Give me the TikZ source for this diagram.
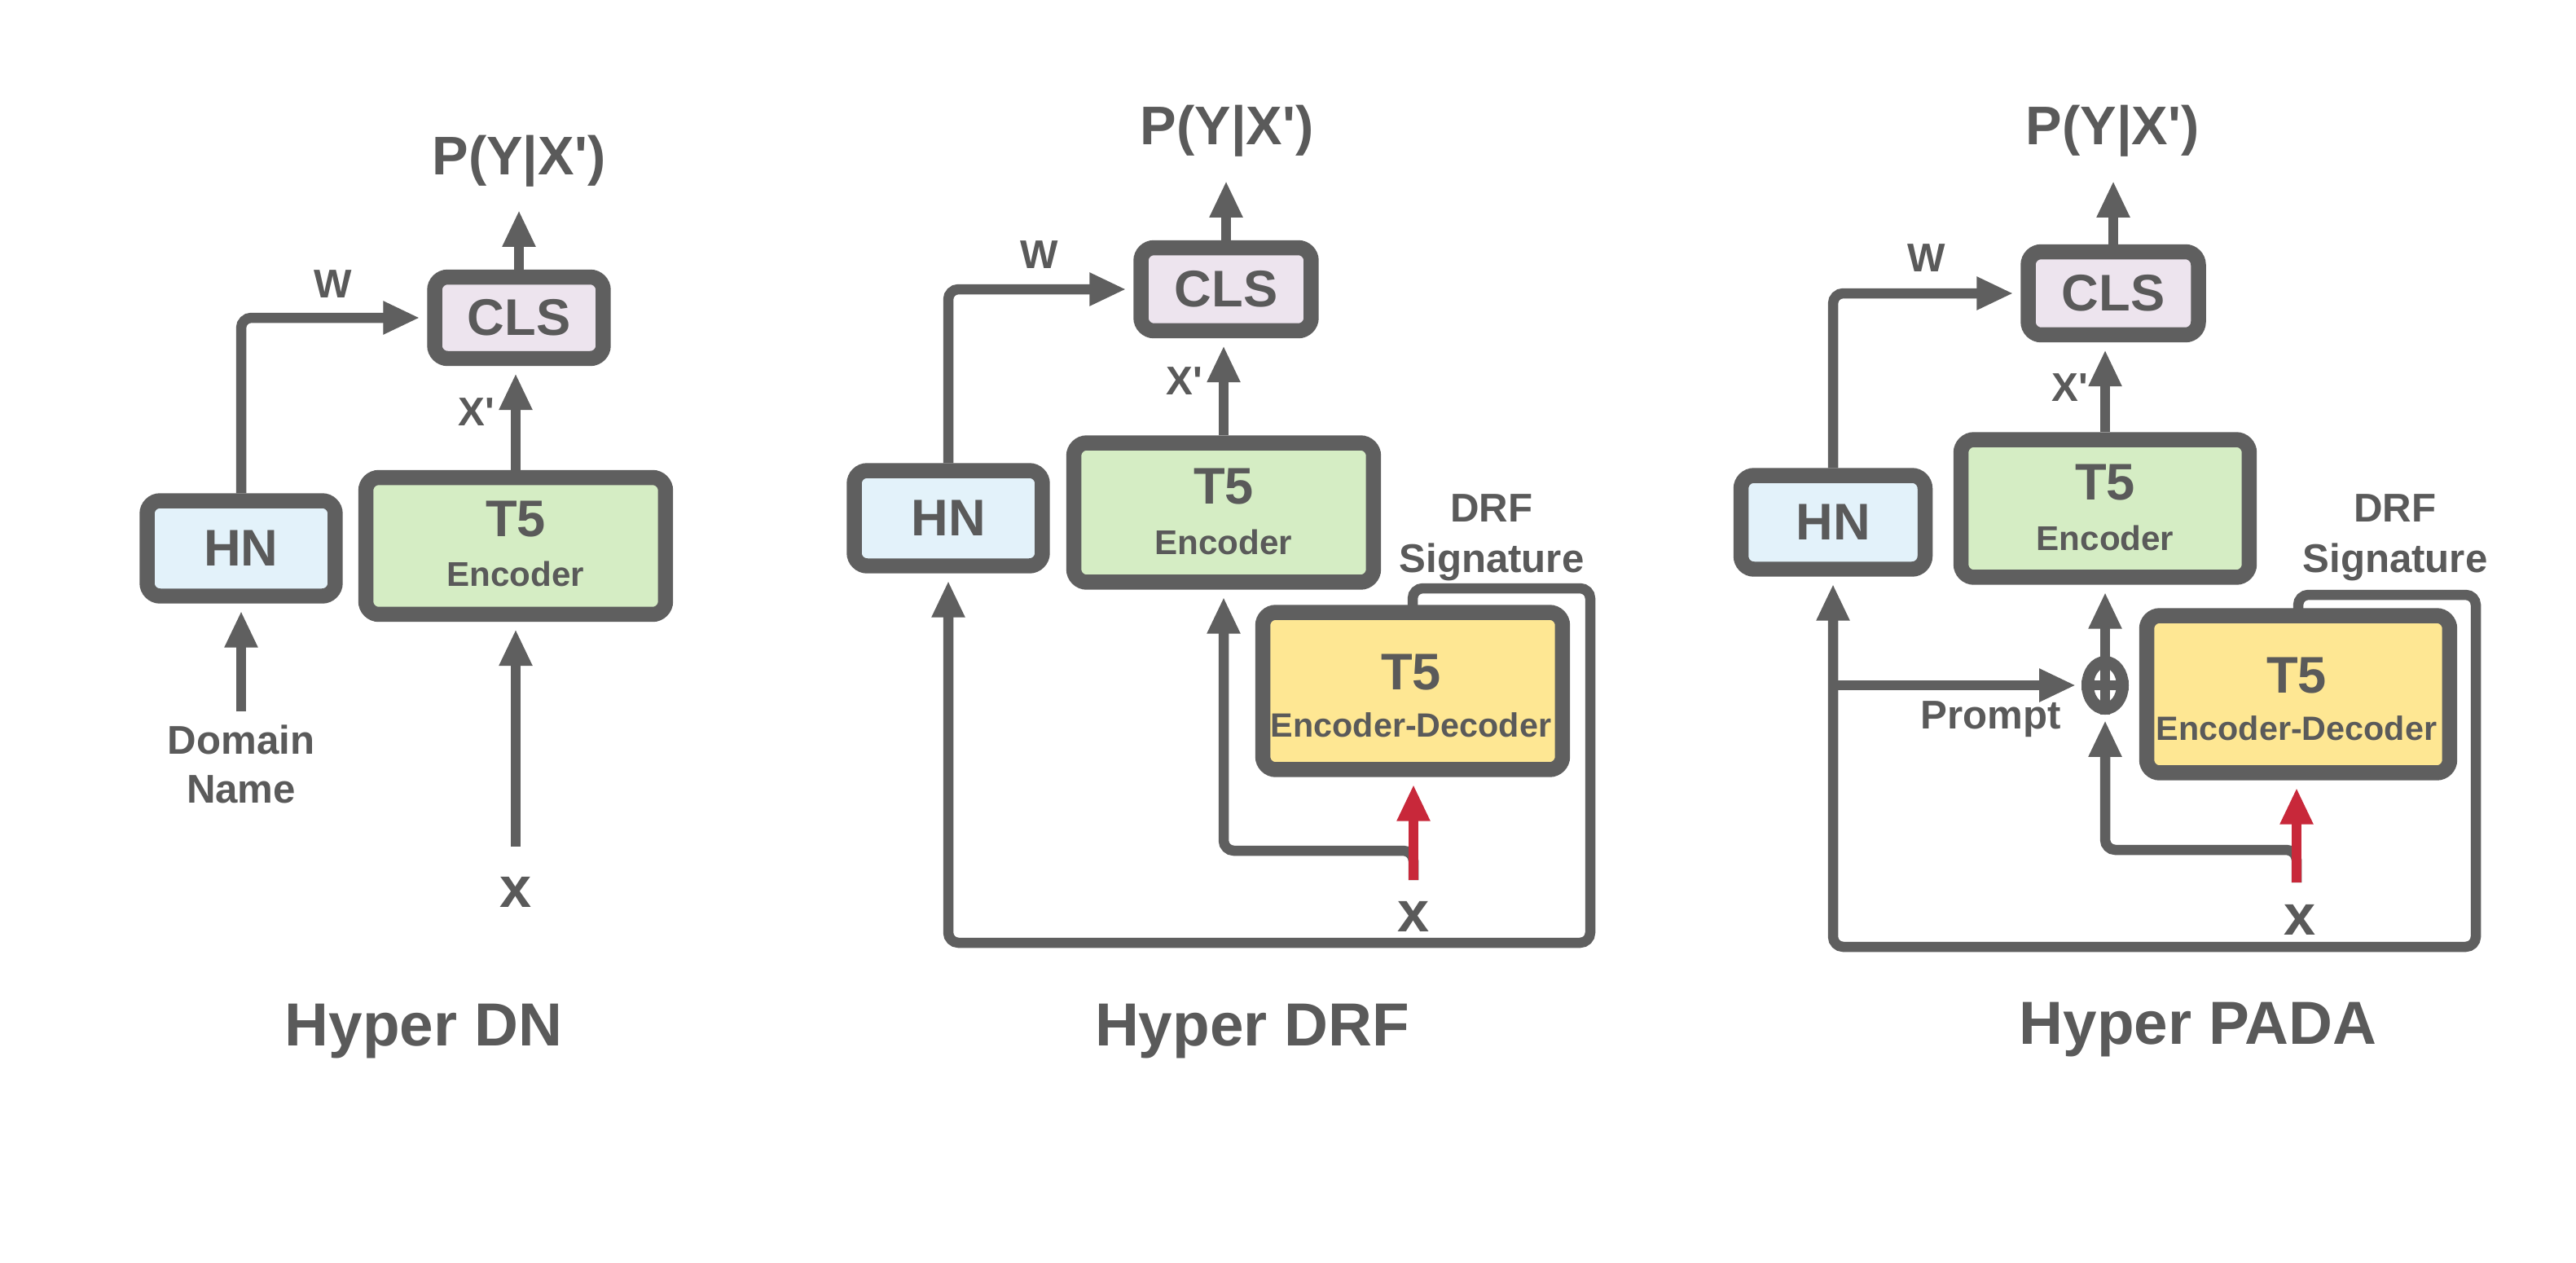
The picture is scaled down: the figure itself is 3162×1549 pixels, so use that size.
\documentclass[tikz,border=0pt]{standalone}
\usepackage{fontspec}
\setmainfont{Liberation Sans}
\usetikzlibrary{arrows.meta,shapes.geometric}
\definecolor{ln}{HTML}{5F5F5F}
\definecolor{txt}{HTML}{5A5A5A}
\definecolor{hnfill}{HTML}{E3F2FA}
\definecolor{encfill}{HTML}{D5EDC4}
\definecolor{clsfill}{HTML}{EDE4EE}
\definecolor{edfill}{HTML}{FEE793}
\definecolor{redc}{HTML}{C8283A}
\newcommand\fsz[2]{\fontsize{#1pt}{#2pt}\selectfont\bfseries}
\newcommand\pyx{P(Y|X\textquotesingle)}
\newcommand\xpr{X\textquotesingle}
\begin{document}
\begin{tikzpicture}[x=0.02cm,y=-0.02cm,
  box/.style={draw=ln, line width=0.37cm, rounded corners=0.32cm, inner sep=0pt},
  line/.style={draw=ln, line width=0.25cm},
  arr/.style={line, -{Triangle[length=0.9cm,width=0.76cm]}},
  redarr/.style={draw=redc, line width=0.25cm, -{Triangle[length=0.9cm,width=0.76cm]}},
  tobox/.style={shorten >=0.18cm},
  lbl/.style={text=txt, inner sep=0pt},
  big/.style={lbl, font=\fsz{38}{44}},
  xlbl/.style={lbl, font=\fsz{40}{44}},
  title/.style={lbl, font=\fsz{42.5}{48}},
  boxtxt/.style={lbl, font=\fsz{36}{40}},
  small/.style={lbl, font=\fsz{24}{28}},
  edtxt/.style={lbl, font=\fsz{23.5}{28}},
  mid/.style={lbl, font=\fsz{28}{32}},
  sig/.style={lbl, font=\fsz{28}{35}, align=center},
  rc/.style={rounded corners=0.25cm}
]
\fill[white] (0,0) rectangle (3162,1549);
\useasboundingbox (0,0) rectangle (3162,1549);

% ================= Panel 1: Hyper DN =================
\node[box, fill=hnfill, minimum width=4.62cm, minimum height=2.34cm] (hn1) at (296,673) {};
\node[boxtxt] (hn1t) at (hn1.center) {HN};
\node[box, fill=encfill, minimum width=7.36cm, minimum height=3.36cm] (enc1) at (633,670) {};
\node[boxtxt] (enc1t) at (633,637) {T5};
\node[small] (enc1s) at (633,704) {Encoder};
\node[box, fill=clsfill, minimum width=4.14cm, minimum height=2.0cm] (cls1) at (637,390) {};
\node[boxtxt] (cls1t) at (cls1.center) {CLS};
\node[big] (p1) at (637,198) {\pyx};
\coordinate (p1tip) at (637,258);
\draw[arr] (cls1.north) -- (p1tip);
\draw[arr, rc, tobox] (hn1.north) |- (cls1.west);
\node[mid] (w1) at (409,349) {W};
\draw[arr, tobox] (enc1.north) -- (enc1.north |- cls1.south);
\node[mid] (xp1) at (585,506) {\xpr};
\coordinate (dn1) at (296,873);
\draw[arr, tobox] (dn1) -- (hn1.south);
\node[lbl, font=\fsz{28}{34}, align=center] (dn1t) at (296,938) {Domain\\Name};
\coordinate (x1) at (633,1039);
\draw[arr, tobox] (x1) -- (enc1.south);
\node[xlbl] (x1t) at (633,1095) {x};
\node[title] (t1) at (520,1266) {Hyper DN};

% ================= Panel 2: Hyper DRF =================
\node[box, fill=hnfill, minimum width=4.62cm, minimum height=2.34cm] (hn2) at (1164,636) {};
\node[boxtxt] (hn2t) at (hn2.center) {HN};
\node[box, fill=encfill, minimum width=7.36cm, minimum height=3.42cm] (enc2) at (1502,629) {};
\node[boxtxt] (enc2t) at (1502,597) {T5};
\node[small] (enc2s) at (1502,665) {Encoder};
\node[box, fill=clsfill, minimum width=4.18cm, minimum height=2.04cm] (cls2) at (1505,355) {};
\node[boxtxt] (cls2t) at (cls2.center) {CLS};
\node[big] (p2) at (1506,161) {\pyx};
\coordinate (p2tip) at (1505,222);
\draw[arr] (cls2.north) -- (p2tip);
\draw[arr, rc, tobox] (hn2.north) |- (cls2.west);
\node[mid] (w2) at (1276,313) {W};
\draw[arr, tobox] (enc2.north) -- (enc2.north |- cls2.south);
\node[mid] (xp2) at (1454,468) {\xpr};
% loop
\coordinate (l2a) at (1952,722);
\coordinate (l2b) at (1952,1157);
\draw[arr, rc, tobox] (1734,760) |- (l2a) -- (l2b) -| (hn2.south);
\node[box, fill=edfill, minimum width=7.36cm, minimum height=3.86cm] (ed2) at (1734,848) {};
\node[boxtxt] (ed2t) at (1732,825) {T5};
\node[edtxt] (ed2s) at (1732,890) {Encoder-Decoder};
\node[sig] (sig2) at (1831,660) {DRF\\Signature};
% x input
\coordinate (x2) at (1735,1080);
\coordinate (j2) at (1735,1044);
\draw[arr, rc, tobox] (x2) -- (j2) -| (enc2.south);
\draw[redarr, tobox] (x2) -- (x2 |- ed2.south);
\node[xlbl] (x2t) at (1735,1125) {x};
\node[title] (t2) at (1537,1266) {Hyper DRF};

% ================= Panel 3: Hyper PADA =================
\node[box, fill=hnfill, minimum width=4.52cm, minimum height=2.30cm] (hn3) at (2250,641) {};
\node[boxtxt] (hn3t) at (hn3.center) {HN};
\node[box, fill=encfill, minimum width=7.08cm, minimum height=3.38cm] (enc3) at (2584,624) {};
\node[boxtxt] (enc3t) at (2584,592) {T5};
\node[small] (enc3s) at (2584,660) {Encoder};
\node[box, fill=clsfill, minimum width=4.18cm, minimum height=2.04cm] (cls3) at (2594,360) {};
\node[boxtxt] (cls3t) at (cls3.center) {CLS};
\node[big] (p3) at (2593,161) {\pyx};
\coordinate (p3tip) at (2594,222);
\draw[arr] (cls3.north) -- (p3tip);
\draw[arr, rc, tobox] (hn3.north) |- (cls3.west);
\node[mid] (w3) at (2365,317) {W};
\draw[arr, tobox] (enc3.north) -- (enc3.north |- cls3.south);
\node[mid] (xp3) at (2541,476) {\xpr};
% loop
\coordinate (l3a) at (3039,730);
\coordinate (l3b) at (3039,1162);
\draw[arr, rc, tobox] (2821,765) |- (l3a) -- (l3b) -| (hn3.south);
\node[box, fill=edfill, minimum width=7.44cm, minimum height=3.86cm] (ed3) at (2821,852) {};
\node[boxtxt] (ed3t) at (2819,829) {T5};
\node[edtxt] (ed3s) at (2819,894) {Encoder-Decoder};
\node[sig] (sig3) at (2940,660) {DRF\\Signature};
% plus
\node[ellipse, draw=ln, fill=white, line width=0.3cm, minimum width=0.86cm, minimum height=1.14cm, inner sep=0pt] (plus) at (2584,841) {};
\draw[ln, line width=0.24cm] (plus.north) -- (plus.south);
\draw[ln, line width=0.24cm] (plus.west) -- (plus.east);
\draw[arr, shorten >=0.14cm] (hn3.south |- plus.west) -- (plus.west);
\node[lbl, font=\fsz{28}{32}] (pr3) at (2444,883) {Prompt};
\draw[arr, tobox] (plus.north) -- (plus.north |- enc3.south);
% x input
\coordinate (x3) at (2819,1083);
\coordinate (j3) at (2819,1043);
\draw[arr, rc, shorten >=0.14cm] (x3) -- (j3) -| (plus.south);
\draw[redarr, tobox] (x3) -- (x3 |- ed3.south);
\node[xlbl] (x3t) at (2823,1129) {x};
\node[title] (t3) at (2698,1264) {Hyper PADA};
\end{tikzpicture}
\end{document}
